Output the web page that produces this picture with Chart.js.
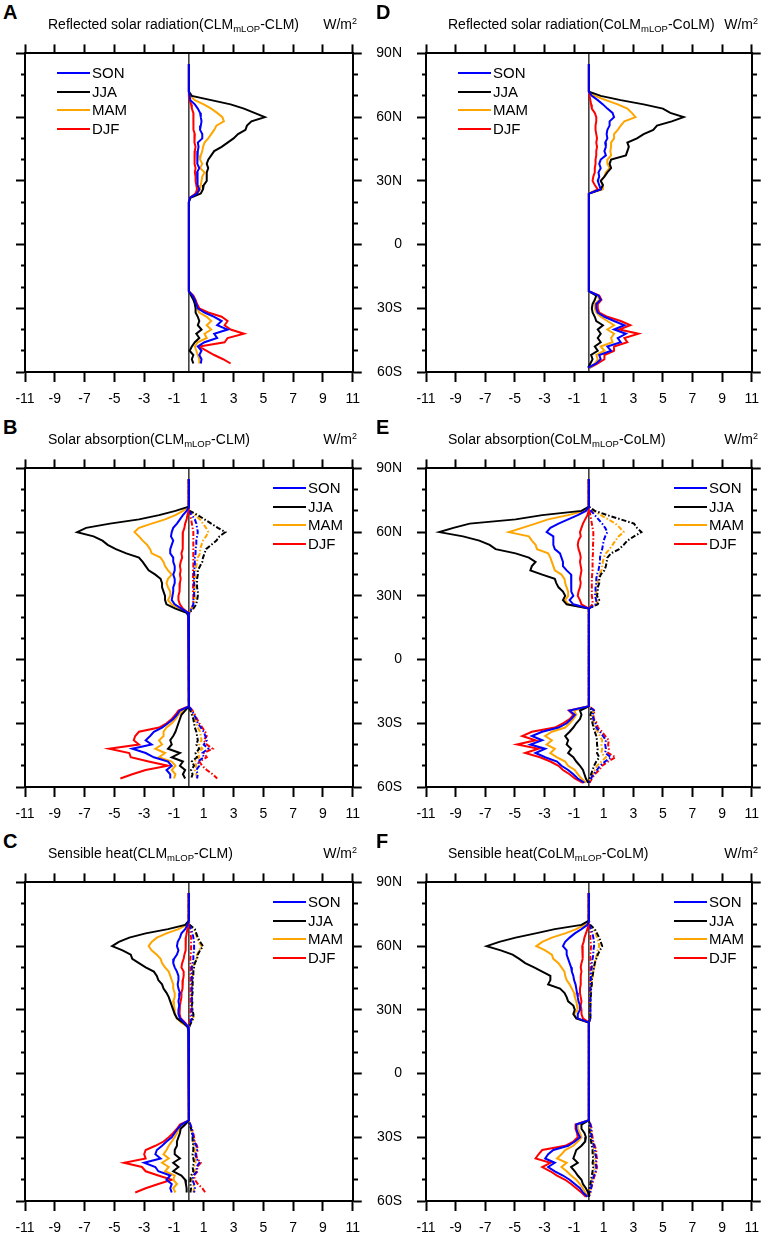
<!DOCTYPE html>
<html>
<head>
<meta charset="utf-8">
<script src="https://cdn.jsdelivr.net/npm/chart.js@4.4.1/dist/chart.umd.min.js"></script>
<style>
  body { margin: 0; background: #fff; overflow: hidden; }
  #page { position: relative; width: 768px; height: 1234px; background: #fff; color: #000;
          font-family: Arial, "Liberation Sans", Helvetica, sans-serif; }
  #page canvas { position: absolute; }
  .letter { position: absolute; font-weight: bold; font-size: 20px; line-height: 20px; }
  .title { position: absolute; font-size: 14px; line-height: 16px; white-space: nowrap; }
  .title sub { font-size: 9.5px; vertical-align: -3px; line-height: 0; }
  .unit { position: absolute; width: 60px; text-align: right; font-size: 14px; line-height: 16px; white-space: nowrap; }
  .unit sup { font-size: 9px; vertical-align: 5px; line-height: 0; }
  .lg-line { position: absolute; width: 33px; height: 2px; }
  .lg-text { position: absolute; font-size: 15px; line-height: 18px; white-space: nowrap; }
</style>
</head>
<body>
<div id="page"></div>
<script>
// latitude of every value (N positive, S negative)
const LATS = [85,72,70,68,66,64,62,60,58,56,54,52,50,48,46,44,42,40,38,36,34,32,30,28,26,24,22,20,
              -22,-24,-26,-28,-30,-32,-34,-36,-38,-40,-42,-44,-46,-48,-50,-52,-54,-56,-58];
const XTICKS = [-11,-9,-7,-5,-3,-1,1,3,5,7,9,11];
const YTICKS = [90,80,70,60,50,40,30,20,10,0,-10,-20,-30,-40,-50,-60];
const YLABELS = {'90':'90N','60':'60N','30':'30N','0':'0','-30':'30S','-60':'60S'};
const SEASONS = ['SON','JJA','MAM','DJF'];
const SEASON_COLORS = ['#0000ff','#000000','#ffa500','#ff0000'];

// A: reflected solar radiation, CLM
const A_SON = [0,0,0.05,0.1,0.4,0.6,0.75,0.8,0.85,0.8,0.75,0.9,0.9,0.6,0.65,0.6,0.55,0.6,0.55,0.7,0.55,0.6,0.55,0.6,0.7,0.55,0.05,0, 0,0.25,0.4,0.5,0.6,1.05,1.7,2.2,1.9,2.6,1.7,1.9,1.05,0.6,0.85,0.7,0.85,0.8,null];
const A_JJA = [0,0,0.2,1.5,2.8,3.7,4.4,5.1,4.2,3.9,3.8,3.3,3.0,2.6,2.2,1.7,1.5,1.3,1.2,1.3,1.2,1.2,1.2,1.0,0.95,0.8,0.1,0, 0,0.15,0.3,0.4,0.45,0.45,0.6,0.7,0.6,0.85,0.5,0.7,0.4,0.2,0.05,0.3,0.2,0.3,null];
const A_MAM = [0,0,0.1,0.4,1.0,1.5,1.9,2.25,2.35,1.85,1.7,1.5,1.3,1.05,0.95,0.9,0.8,0.75,0.9,0.75,1.05,0.9,0.85,0.8,0.75,0.6,0.05,0, 0,0.2,0.35,0.45,0.55,0.7,1.2,1.5,1.2,1.5,1.05,1.2,0.6,0.4,0.5,0.6,0.7,0.7,null];
const A_DJF = [0,0,0,0.05,0.15,0.2,0.3,0.3,0.33,0.3,0.3,0.4,0.4,0.35,0.45,0.4,0.35,0.4,0.4,0.45,0.4,0.45,0.45,0.5,0.55,0.45,0.05,0, 0,0.3,0.45,0.55,0.7,1.3,2.2,2.6,2.4,2.8,3.7,2.6,2.4,0.7,1.2,1.7,2.3,2.8,null];

// B: solar absorption, CLM (solid) and its positive part (dash-dot)
const B_SON = [0,0,-0.15,-0.4,-0.6,-0.8,-1.05,-1.15,-1.2,-1.05,-1.15,-1.25,-1.25,-1.05,-1.05,-0.95,-0.95,-1.05,-0.95,-0.95,-1.05,-1.05,-1.1,-1.15,-0.95,-0.5,-0.05,0, 0,-0.6,-0.8,-1.05,-1.4,-1.8,-2.35,-2.6,-2.9,-2.5,-3.8,-2.9,-2.35,-1.4,-1.15,-1.5,-1.25,-1.25,null];
const B_JJA = [0,0,-0.9,-2.0,-3.35,-5.3,-6.9,-7.5,-6.4,-5.8,-5.45,-4.9,-4.2,-3.35,-3.1,-2.9,-2.7,-2.25,-1.9,-1.8,-1.8,-1.7,-1.6,-1.6,-1.5,-0.9,-0.15,0, 0,-0.25,-0.5,-0.6,-0.7,-0.8,-0.9,-1.05,-1.25,-1.15,-1.4,-0.6,-1.15,-0.4,-0.6,-0.25,-0.4,-0.25,null];
const B_MAM = [0,0,-0.4,-0.9,-1.6,-2.5,-3.35,-3.65,-3.35,-3.1,-2.8,-2.6,-2.5,-1.9,-1.7,-1.6,-1.4,-1.15,-1.4,-1.5,-1.4,-1.25,-1.25,-1.4,-1.15,-0.6,-0.1,0, 0,-0.4,-0.7,-0.9,-1.15,-1.5,-1.7,-1.7,-2.0,-1.8,-2.25,-1.6,-2.0,-1.15,-0.9,-1.15,-0.9,-1.0,null];
const B_DJF = [0,0,-0.05,-0.1,-0.15,-0.25,-0.3,-0.4,-0.4,-0.4,-0.45,-0.4,-0.5,-0.45,-0.55,-0.6,-0.55,-0.6,-0.55,-0.6,-0.6,-0.65,-0.7,-0.7,-0.6,-0.4,-0.05,0, 0,-0.7,-0.9,-1.15,-1.5,-2.0,-3.35,-3.6,-3.7,-3.35,-5.35,-4.0,-3.9,-2.7,-1.4,-2.9,-3.8,-4.6,null];
const B_SON_P = [0,0,0,0.2,0.4,0.5,0.55,0.6,0.55,0.5,0.5,0.45,0.45,0.4,0.4,0.4,0.35,0.35,0.35,0.35,0.35,0.35,0.35,0.3,0.3,0.2,0.02,0, 0,0.2,0.35,0.5,0.6,0.8,1.0,1.1,1.2,1.0,1.3,0.9,1.0,0.6,0.7,0.5,0.6,0.55,null];
const B_JJA_P = [0,0,0.05,0.6,1.05,1.5,1.95,2.45,2.05,1.85,1.5,1.15,1.05,0.95,0.9,0.75,0.6,0.6,0.55,0.55,0.55,0.6,0.6,0.55,0.5,0.3,0.02,0, 0,0.1,0.2,0.3,0.35,0.4,0.5,0.55,0.6,0.5,0.7,0.45,0.55,0.2,0.35,0.15,0.25,0.15,null];
const B_MAM_P = [0,0,0.02,0.4,0.75,0.95,1.15,1.3,1.15,0.95,0.85,0.75,0.75,0.6,0.55,0.5,0.45,0.4,0.45,0.4,0.4,0.4,0.4,0.4,0.35,0.2,0.02,0, 0,0.15,0.3,0.4,0.5,0.6,0.75,0.8,0.85,0.7,0.9,0.6,0.7,0.4,0.5,0.4,0.5,0.55,null];
const B_DJF_P = [0,0,0,0.1,0.15,0.2,0.25,0.3,0.3,0.3,0.3,0.3,0.3,0.3,0.3,0.3,0.28,0.28,0.28,0.28,0.28,0.28,0.3,0.3,0.28,0.18,0.02,0, 0,0.25,0.4,0.55,0.7,0.9,1.1,1.2,1.0,1.2,1.6,1.0,1.2,0.7,0.9,1.2,1.6,1.9,null];

// C: sensible heat, CLM
const C_SON = [0,0,-0.1,-0.25,-0.5,-0.6,-0.75,-0.8,-0.7,-0.8,-1.0,-1.05,-0.95,-0.8,-0.7,-0.7,-0.75,-0.7,-0.6,-0.65,-0.7,-0.65,-0.7,-0.7,-0.6,-0.3,-0.05,0, 0,-0.5,-0.75,-0.95,-1.15,-1.5,-1.8,-2.15,-2.25,-1.9,-3.0,-2.25,-2.05,-1.25,-1.5,-1.15,-1.25,-1.15,null];
const C_JJA = [0,0,-0.25,-1.4,-2.9,-4.0,-4.7,-5.15,-4.45,-3.9,-3.8,-3.35,-2.9,-2.35,-2.15,-2.05,-1.8,-1.7,-1.5,-1.35,-1.25,-1.15,-1.05,-0.95,-0.8,-0.4,-0.1,0, 0,-0.25,-0.55,-0.6,-0.7,-0.8,-0.8,-0.95,-0.95,-0.6,-1.05,-0.7,-1.05,-0.5,-0.25,-0.2,-0.15,-0.15,null];
const C_MAM = [0,0,-0.15,-0.7,-1.5,-2.15,-2.5,-2.7,-2.5,-2.15,-1.9,-1.8,-1.6,-1.35,-1.25,-1.15,-1.05,-1.05,-0.95,-0.95,-1.05,-1.0,-0.95,-0.95,-0.8,-0.5,-0.05,0, 0,-0.35,-0.65,-0.8,-0.95,-1.15,-1.35,-1.5,-1.7,-1.35,-1.8,-1.35,-1.6,-0.95,-1.05,-0.8,-1.05,-0.9,null];
const C_DJF = [0,0,-0.05,-0.1,-0.15,-0.2,-0.2,-0.2,-0.25,-0.3,-0.35,-0.45,-0.5,-0.35,-0.35,-0.4,-0.4,-0.45,-0.5,-0.5,-0.55,-0.6,-0.6,-0.65,-0.55,-0.25,-0.05,0, 0,-0.6,-0.8,-1.05,-1.35,-1.7,-2.25,-2.9,-3.0,-2.9,-4.35,-3.15,-2.9,-2.05,-1.15,-2.05,-2.9,-3.6,null];
const C_SON_P = [0,0,0.02,0.15,0.25,0.3,0.35,0.35,0.35,0.3,0.3,0.25,0.2,0.2,0.2,0.2,0.2,0.2,0.2,0.2,0.2,0.2,0.2,0.2,0.2,0.1,0.02,0, 0,0.1,0.2,0.25,0.3,0.35,0.5,0.55,0.45,0.5,0.7,0.5,0.55,0.3,0.25,0.35,0.4,0.35,null];
const C_JJA_P = [0,0,0.05,0.4,0.5,0.6,0.75,0.95,0.75,0.6,0.55,0.4,0.35,0.3,0.3,0.25,0.25,0.25,0.25,0.2,0.25,0.2,0.25,0.3,0.3,0.15,0.02,0, 0,0.05,0.15,0.2,0.25,0.25,0.3,0.3,0.25,0.3,0.35,0.25,0.3,0.15,0.1,0.1,0.15,0.1,null];
const C_MAM_P = [0,0,0.05,0.35,0.45,0.55,0.65,0.85,0.7,0.55,0.5,0.35,0.3,0.3,0.25,0.25,0.25,0.2,0.2,0.2,0.2,0.2,0.25,0.3,0.3,0.15,0.02,0, 0,0.05,0.15,0.2,0.3,0.3,0.35,0.4,0.35,0.4,0.45,0.35,0.4,0.2,0.2,0.3,0.35,0.3,null];
const C_DJF_P = [0,0,0,0.05,0.1,0.15,0.15,0.15,0.15,0.12,0.1,0.1,0.1,0.1,0.1,0.1,0.1,0.1,0.1,0.1,0.1,0.1,0.1,0.1,0.1,0.05,0.02,0, 0,0.1,0.2,0.3,0.35,0.4,0.55,0.6,0.5,0.55,0.8,0.55,0.6,0.35,0.4,0.6,0.9,1.1,null];

// D: reflected solar radiation, CoLM
const D_SON = [0,0,0.2,0.6,0.95,1.25,1.6,1.7,1.4,1.4,1.25,1.2,1.25,1.1,1.15,1.05,1.15,0.8,0.7,0.8,0.65,0.7,0.6,0.7,0.8,0,0,0, 0,0.65,0.8,0.5,0.5,0.6,1.05,1.7,2.4,1.7,2.5,1.95,2.15,1.25,1.5,0.7,0.8,0.5,-0.05];
const D_JJA = [0,0,0.8,2.15,3.7,5.0,5.5,6.4,5.6,4.6,4.35,3.7,3.25,2.6,2.7,2.6,2.5,1.5,1.4,1.5,1.25,1.05,0.8,0.95,0.8,0,0,0, 0,0.5,0.4,0.25,0.2,0.25,0.4,0.5,0.95,0.6,0.8,0.6,0.8,0.4,0.6,0.15,0.25,0.1,-0.05];
const D_MAM = [0,0,0.4,1.15,1.95,2.6,2.9,3.15,2.4,2.15,1.95,1.7,1.7,1.5,1.5,1.45,1.5,1.25,1.25,1.4,1.15,1.05,0.8,0.95,0.95,0,0,0, 0,0.6,0.7,0.4,0.4,0.5,0.8,1.25,1.7,1.25,1.7,1.5,1.6,0.8,1.05,0.5,0.6,0.4,0.05];
const D_DJF = [0,0,0.05,0.1,0.15,0.2,0.4,0.5,0.5,0.45,0.45,0.5,0.55,0.5,0.55,0.5,0.5,0.45,0.45,0.4,0.4,0.3,0.25,0.4,0.6,0,0,0, 0,0.7,0.85,0.6,0.6,0.7,1.25,2.15,2.8,2.05,3.35,2.4,2.6,1.7,1.7,1.05,1.05,0.6,0.05];

// E: solar absorption, CoLM
const E_SON = [0,0,-0.2,-0.75,-1.4,-2.05,-2.6,-2.85,-2.4,-2.4,-2.4,-2.3,-1.95,-1.85,-1.75,-1.75,-1.5,-1.2,-1.15,-1.2,-1.2,-1.2,-1.05,-1.3,-1.05,0,0,0, 0,-1.3,-0.95,-1.2,-1.5,-2.05,-3.15,-3.85,-3.15,-3.95,-2.95,-3.6,-2.95,-2.15,-1.85,-1.4,-1.05,-0.75,-0.3];
const E_JJA = [0,0,-0.5,-3.15,-4.95,-8.05,-9.15,-10.1,-8.5,-7.4,-6.7,-6.3,-4.95,-4.05,-3.6,-3.85,-3.95,-3.15,-2.3,-2.2,-2.05,-1.75,-1.6,-1.75,-1.5,0,0,0, 0,-0.6,-0.5,-0.6,-0.85,-1.05,-1.3,-1.6,-1.4,-1.5,-1.2,-1.4,-1.05,-0.85,-0.6,-0.4,-0.3,-0.2,-0.05];
const E_MAM = [0,0,-0.3,-1.4,-2.75,-3.6,-4.5,-5.4,-4.05,-3.85,-3.6,-3.5,-2.75,-2.6,-2.5,-2.4,-2.3,-1.85,-1.65,-1.6,-1.5,-1.4,-1.4,-1.6,-1.4,0,0,0, 0,-1.0,-0.85,-1.05,-1.3,-1.6,-2.5,-2.95,-2.5,-2.85,-2.3,-2.6,-2.15,-1.6,-1.4,-0.95,-0.75,-0.5,-0.2];
const E_DJF = [0,0,-0.05,-0.1,-0.25,-0.4,-0.5,-0.6,-0.55,-0.7,-0.75,-0.7,-0.6,-0.55,-0.6,-0.55,-0.5,-0.55,-0.6,-0.55,-0.6,-0.7,-0.75,-0.6,-0.5,0,0,0, 0,-1.35,-1.05,-1.3,-1.75,-2.3,-3.85,-4.5,-3.6,-4.85,-3.4,-4.3,-3.3,-2.6,-2.05,-1.75,-1.3,-0.95,-0.4];
const E_SON_P = [0,0,0.15,0.4,0.65,0.9,1.1,1.25,1.1,1.0,0.95,0.9,0.8,0.75,0.75,0.7,0.65,0.55,0.5,0.5,0.45,0.45,0.4,0.5,0.45,0,0,0, 0,0.35,0.25,0.3,0.45,0.5,0.75,0.95,1.15,1.1,1.15,1.1,1.5,1.1,0.75,0.55,0.3,0.15,0];
const E_JJA_P = [0,0,0.4,1.25,2.15,3.05,3.25,3.55,3.05,2.6,2.35,2.05,1.5,1.25,1.2,1.15,1.05,0.8,0.7,0.7,0.6,0.6,0.55,0.7,0.6,0,0,0, 0,0.2,0.1,0.15,0.25,0.3,0.4,0.5,0.55,0.55,0.6,0.55,0.7,0.5,0.35,0.25,0.15,0.05,0];
const E_MAM_P = [0,0,0.3,0.8,1.3,1.8,2.1,2.35,2.0,1.8,1.6,1.4,1.15,1.0,0.95,0.9,0.85,0.7,0.6,0.6,0.55,0.5,0.5,0.6,0.5,0,0,0, 0,0.3,0.2,0.25,0.35,0.4,0.6,0.75,0.9,0.85,0.9,0.85,1.15,0.85,0.55,0.4,0.25,0.1,0];
const E_DJF_P = [0,0,0.05,0.1,0.15,0.2,0.25,0.3,0.3,0.3,0.28,0.28,0.28,0.25,0.25,0.25,0.25,0.22,0.2,0.2,0.2,0.2,0.2,0.25,0.25,0,0,0, 0,0.4,0.3,0.35,0.55,0.6,0.9,1.1,1.35,1.3,1.35,1.3,1.8,1.3,0.9,0.7,0.4,0.2,0.05];

// F: sensible heat, CoLM
const F_SON = [0,0,-0.1,-0.5,-0.95,-1.3,-1.6,-1.75,-1.5,-1.5,-1.4,-1.3,-1.2,-1.15,-1.05,-1.0,-0.9,-0.85,-0.8,-0.75,-0.7,-0.6,-0.6,-0.75,-0.75,0,0,0, 0,-0.85,-0.85,-0.75,-0.6,-0.95,-1.4,-2.4,-2.75,-2.95,-2.3,-2.75,-2.3,-1.75,-1.3,-0.95,-0.6,-0.4,-0.1];
const F_JJA = [0,0,-0.5,-2.3,-3.6,-4.95,-6.05,-6.9,-5.95,-5.15,-4.7,-4.3,-3.7,-3.15,-2.6,-2.6,-2.75,-1.95,-1.65,-1.5,-1.4,-1.05,-0.95,-1.05,-0.85,0,0,0, 0,-0.5,-0.5,-0.3,-0.2,-0.25,-0.5,-0.85,-0.95,-1.05,-0.75,-1.2,-0.95,-0.75,-0.5,-0.4,-0.2,-0.05,0];
const F_MAM = [0,0,-0.3,-0.85,-1.6,-2.5,-3.15,-3.55,-2.95,-2.5,-2.4,-2.05,-1.85,-1.65,-1.6,-1.5,-1.3,-1.15,-1.0,-0.95,-0.85,-0.8,-0.75,-1.0,-0.85,0,0,0, 0,-0.75,-0.75,-0.6,-0.5,-0.75,-1.05,-1.6,-1.85,-2.15,-1.5,-1.85,-1.5,-1.2,-0.85,-0.6,-0.4,-0.25,-0.05];
const F_DJF = [0,0,-0.05,-0.1,-0.2,-0.3,-0.35,-0.45,-0.4,-0.4,-0.45,-0.5,-0.55,-0.5,-0.55,-0.55,-0.55,-0.6,-0.6,-0.55,-0.5,-0.55,-0.5,-0.5,-0.4,0,0,0, 0,-0.9,-0.9,-0.8,-0.75,-1.05,-1.6,-3.15,-3.4,-3.6,-2.6,-3.15,-2.6,-2.15,-1.6,-1.2,-0.85,-0.5,-0.2];
const F_SON_P = [0,0,0.03,0.15,0.25,0.3,0.35,0.35,0.3,0.3,0.25,0.2,0.2,0.15,0.15,0.12,0.12,0.1,0.1,0.1,0.1,0.1,0.1,0.1,0.1,0,0,0, 0,0.1,0.15,0.15,0.2,0.25,0.35,0.4,0.45,0.5,0.45,0.5,0.45,0.35,0.25,0.2,0.15,0.1,0];
const F_JJA_P = [0,0,0.1,0.4,0.55,0.7,0.8,0.9,0.75,0.6,0.5,0.4,0.35,0.3,0.25,0.2,0.2,0.15,0.15,0.12,0.12,0.1,0.1,0.1,0.1,0,0,0, 0,0.05,0.05,0.05,0.1,0.15,0.2,0.25,0.25,0.3,0.25,0.3,0.25,0.2,0.15,0.1,0.05,0.02,0];
const F_MAM_P = [0,0,0.05,0.3,0.45,0.55,0.65,0.7,0.6,0.55,0.45,0.4,0.35,0.3,0.25,0.2,0.2,0.15,0.15,0.12,0.12,0.1,0.1,0.1,0.1,0,0,0, 0,0.05,0.1,0.1,0.15,0.2,0.3,0.35,0.35,0.4,0.35,0.4,0.35,0.3,0.2,0.15,0.1,0.05,0];
const F_DJF_P = [0,0,0,0.05,0.1,0.1,0.12,0.15,0.12,0.1,0.1,0.1,0.1,0.1,0.1,0.1,0.1,0.08,0.08,0.08,0.08,0.08,0.08,0.08,0.08,0,0,0, 0,0.12,0.2,0.2,0.25,0.3,0.4,0.5,0.5,0.55,0.5,0.55,0.5,0.4,0.3,0.25,0.15,0.1,0];

const PANELS = [
  {letter:'A', col:0, row:0, title:'Reflected solar radiation', model:'CLM',  legend:'left',  solid:[A_SON,A_JJA,A_MAM,A_DJF], dashed:null},
  {letter:'B', col:0, row:1, title:'Solar absorption',          model:'CLM',  legend:'right', solid:[B_SON,B_JJA,B_MAM,B_DJF], dashed:[B_SON_P,B_JJA_P,B_MAM_P,B_DJF_P]},
  {letter:'C', col:0, row:2, title:'Sensible heat',             model:'CLM',  legend:'right', solid:[C_SON,C_JJA,C_MAM,C_DJF], dashed:[C_SON_P,C_JJA_P,C_MAM_P,C_DJF_P]},
  {letter:'D', col:1, row:0, title:'Reflected solar radiation', model:'CoLM', legend:'left',  solid:[D_SON,D_JJA,D_MAM,D_DJF], dashed:null},
  {letter:'E', col:1, row:1, title:'Solar absorption',          model:'CoLM', legend:'right', solid:[E_SON,E_JJA,E_MAM,E_DJF], dashed:[E_SON_P,E_JJA_P,E_MAM_P,E_DJF_P]},
  {letter:'F', col:1, row:2, title:'Sensible heat',             model:'CoLM', legend:'right', solid:[F_SON,F_JJA,F_MAM,F_DJF], dashed:[F_SON_P,F_JJA_P,F_MAM_P,F_DJF_P]}
];

// page geometry
const FONT = 'Arial, "Liberation Sans", Helvetica, sans-serif';
const PLOT_TOP = [42, 457, 871];
const PLOT_LEFT = [25, 426];
const PLOT_W = 332, PLOT_H = 330;
const AXIS_L = [25, 60], AXIS_R = [12, 10], AXIS_T = 12, AXIS_B = 33;

Chart.defaults.font.family = FONT;
Chart.defaults.color = '#000';

function toPoints(vals) {
  const pts = [];
  LATS.forEach((lat, i) => { if (vals[i] !== null) pts.push({x: vals[i], y: lat}); });
  return pts;
}

// minor latitude ticks drawn half length with a dash on the tick mark
function tickDash(side) {
  return ctx => {
    if (!ctx.tick || ctx.tick.value % 30 === 0) return [];
    return side === 'left' ? [0, 5, 4] : [4, 20];
  };
}

const zeroLine = {
  id: 'zeroLine',
  beforeDatasetsDraw(chart) {
    const {ctx, chartArea, scales} = chart;
    const px = scales.x.getPixelForValue(0);
    ctx.save();
    ctx.strokeStyle = '#000';
    ctx.lineWidth = 1.2;
    ctx.beginPath();
    ctx.moveTo(px, chartArea.top);
    ctx.lineTo(px, chartArea.bottom);
    ctx.stroke();
    ctx.restore();
  }
};

function addDiv(cls, left, top, html) {
  const d = document.createElement('div');
  d.className = cls;
  d.style.left = left + 'px';
  d.style.top = top + 'px';
  d.innerHTML = html;
  document.getElementById('page').appendChild(d);
  return d;
}

PANELS.forEach(p => {
  const pl = PLOT_LEFT[p.col], pt = PLOT_TOP[p.row];
  const cw = AXIS_L[p.col] + PLOT_W + AXIS_R[p.col];
  const ch = AXIS_T + PLOT_H + AXIS_B;
  const cv = document.createElement('canvas');
  cv.width = cw; cv.height = ch;
  cv.style.left = (pl - AXIS_L[p.col]) + 'px';
  cv.style.top = (pt - AXIS_T) + 'px';
  cv.style.width = cw + 'px';
  cv.style.height = ch + 'px';
  document.getElementById('page').appendChild(cv);

  addDiv('letter', p.col === 0 ? 3 : 376, pt - 40, p.letter);
  addDiv('title', pl + 23 - p.col, pt - 26.5, p.title + '(' + p.model + '<sub>mLOP</sub>-' + p.model + ')');
  addDiv('unit', pl + PLOT_W - 60, pt - 26.5, 'W/m<sup>2</sup>');

  const lx = p.legend === 'left' ? 32 : 248;
  SEASONS.forEach((s, i) => {
    const cy = pt + 31 + i * 18.7;
    const ln = addDiv('lg-line', pl + lx, cy - 1, '');
    ln.style.background = SEASON_COLORS[i];
    addDiv('lg-text', pl + lx + 35, cy - 9, s);
  });

  const datasets = [];
  p.solid.forEach((vals, i) => datasets.push({
    label: SEASONS[i], data: toPoints(vals), borderColor: SEASON_COLORS[i],
    borderWidth: 2, showLine: true, pointRadius: 0, fill: false, tension: 0
  }));
  if (p.dashed) p.dashed.forEach((vals, i) => datasets.push({
    label: SEASONS[i] + ' +', data: toPoints(vals), borderColor: SEASON_COLORS[i],
    borderWidth: 2, borderDash: [5, 2, 1.5, 2], showLine: true, pointRadius: 0, fill: false, tension: 0
  }));

  const xTicks = s => { s.ticks = XTICKS.map(v => ({value: v})); };
  const yTicks = s => { s.ticks = YTICKS.map(v => ({value: v})); };
  const border = {display: true, color: '#000', width: 2};

  new Chart(cv, {
    type: 'scatter',
    data: {datasets: datasets},
    options: {
      responsive: false,
      maintainAspectRatio: false,
      animation: false,
      events: [],
      layout: {padding: 0},
      plugins: {legend: {display: false}, tooltip: {enabled: false}},
      scales: {
        x: {
          type: 'linear', position: 'bottom', min: -11, max: 11,
          afterBuildTicks: xTicks,
          afterFit: s => { s.height = AXIS_B; },
          ticks: {autoSkip: false, maxRotation: 0, padding: 9, color: '#000', font: {size: 14}, callback: v => String(v)},
          grid: {drawOnChartArea: false, drawTicks: true, tickLength: 10, tickWidth: 2, tickColor: '#000', color: '#000'},
          border: border
        },
        xTop: {
          type: 'linear', position: 'top', min: -11, max: 11,
          afterBuildTicks: xTicks,
          afterFit: s => { s.height = AXIS_T; },
          ticks: {display: false},
          grid: {drawOnChartArea: false, drawTicks: true, tickLength: 9, tickWidth: 2, tickColor: '#000', color: '#000'},
          border: border
        },
        y: {
          type: 'linear', position: 'left', min: -60, max: 90,
          afterBuildTicks: yTicks,
          afterFit: s => { s.width = AXIS_L[p.col]; },
          ticks: {autoSkip: false, padding: 15, color: '#000', font: {size: 14},
                  callback: v => (p.col === 1 && YLABELS[String(v)]) ? YLABELS[String(v)] : ''},
          grid: {drawOnChartArea: false, drawTicks: true, tickLength: 9, tickWidth: 2, tickColor: '#000', color: '#000',
                 tickBorderDash: tickDash('left')},
          border: border
        },
        yRight: {
          type: 'linear', position: 'right', min: -60, max: 90,
          afterBuildTicks: yTicks,
          afterFit: s => { s.width = AXIS_R[p.col]; },
          ticks: {display: false},
          grid: {drawOnChartArea: false, drawTicks: true, tickLength: 9, tickWidth: 2, tickColor: '#000', color: '#000',
                 tickBorderDash: tickDash('right')},
          border: border
        }
      }
    },
    plugins: [zeroLine]
  });
});
</script>
</body>
</html>
